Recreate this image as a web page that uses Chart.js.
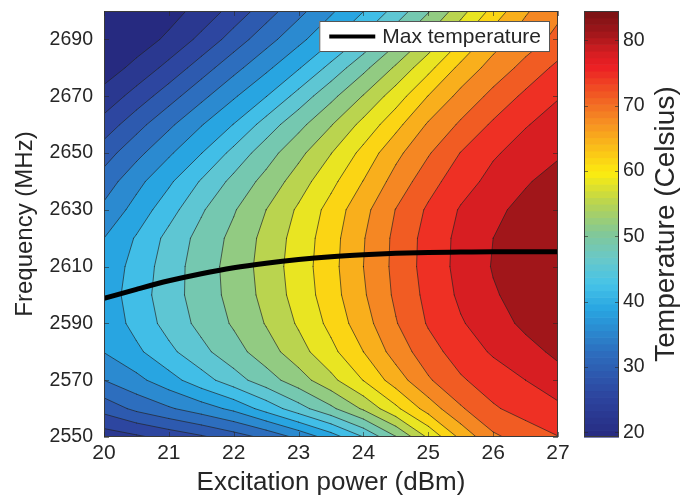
<!DOCTYPE html>
<html>
<head>
<meta charset="utf-8">
<script src="https://cdn.jsdelivr.net/npm/chart.js@4.4.1/dist/chart.umd.min.js"></script>
<style>
  html, body { margin: 0; padding: 0; background: #fff; }
  #wrap { position: relative; width: 684px; height: 499px; }
  #map { position: absolute; left: 0; top: 0; }
  #bar { position: absolute; left: 560px; top: 0; }
</style>
</head>
<body>
<div id="wrap">
  <canvas id="map" width="575" height="499"></canvas>
  <canvas id="bar" width="124" height="499"></canvas>
</div>
<script>
var powers = [20, 20.5, 21, 21.5, 22, 22.5, 23, 23.5, 24, 24.5, 25, 25.5, 26, 26.5, 27];
var freqs = [2550, 2560, 2570, 2580, 2590, 2600, 2610, 2620, 2630, 2640, 2650, 2660, 2670, 2680, 2690, 2700];

// temperature (Celsius), one row per frequency, one column per power
var temperature = [
  [23.9, 25.2, 26.9, 28.6, 30.7, 33.1, 36.4, 40.4, 45.4, 51.7, 58.9, 65.7, 70.9, 72.9, 74.6],
  [30.3, 33.1, 35.2, 37.3, 39.7, 43.4, 47.3, 51.2, 55.7, 61.0, 66.3, 71.1, 74.3, 76.0, 77.3],
  [35.6, 38.0, 40.8, 44.0, 47.2, 50.4, 53.7, 57.5, 61.8, 66.5, 71.1, 74.3, 76.3, 78.0, 79.9],
  [39.0, 41.4, 44.6, 47.7, 50.6, 53.7, 57.1, 60.8, 64.9, 69.6, 73.4, 76.2, 78.4, 80.1, 81.9],
  [39.8, 43.2, 46.6, 49.5, 52.3, 55.4, 58.8, 62.6, 66.8, 71.3, 75.0, 77.7, 79.8, 81.9, 83.0],
  [40.2, 43.8, 47.2, 50.1, 53.0, 56.2, 59.7, 63.5, 67.8, 72.1, 75.6, 78.6, 80.9, 82.4, 83.9],
  [39.7, 43.4, 47.0, 50.2, 53.2, 56.5, 60.0, 63.8, 68.2, 72.4, 76.0, 79.0, 81.4, 82.9, 84.3],
  [38.9, 42.4, 46.4, 49.7, 52.8, 56.2, 59.7, 63.6, 68.0, 72.3, 75.9, 78.9, 81.2, 82.7, 84.2],
  [36.4, 40.1, 44.1, 48.2, 51.6, 55.2, 58.9, 62.9, 67.2, 71.6, 75.2, 78.3, 80.5, 82.1, 83.4],
  [33.8, 37.9, 41.5, 45.7, 49.5, 53.0, 56.8, 60.8, 65.0, 69.5, 73.4, 76.6, 79.0, 80.9, 82.4],
  [30.8, 34.6, 38.4, 42.0, 46.4, 50.4, 54.3, 58.3, 62.7, 67.3, 71.2, 74.8, 77.6, 79.3, 80.8],
  [27.2, 31.1, 34.9, 38.7, 42.2, 46.8, 50.9, 55.0, 59.4, 63.9, 68.6, 72.0, 75.2, 77.8, 79.3],
  [23.5, 27.2, 30.9, 34.7, 38.5, 42.0, 46.6, 51.0, 55.4, 60.1, 65.0, 69.2, 72.4, 75.4, 77.8],
  [21.3, 23.3, 26.9, 30.7, 34.5, 38.2, 41.8, 46.4, 51.0, 55.7, 60.7, 65.8, 69.6, 72.5, 75.5],
  [20.1, 21.3, 23.1, 26.7, 30.5, 34.3, 38.0, 41.6, 46.1, 51.0, 56.0, 61.4, 66.6, 69.9, 72.4],
  [19.5, 20.4, 21.6, 23.5, 27.1, 30.8, 34.6, 38.4, 42.0, 46.6, 51.6, 57.1, 62.8, 67.8, 70.8]
];

// frequency of the hottest point for each power
var ridgeFreq = [2598.8, 2602, 2605, 2607.5, 2609.6, 2611.2, 2612.5, 2613.5, 2614.2, 2614.7, 2615, 2615.1, 2615.2, 2615.2, 2615.2];

var levels = [22.6, 25.8, 29.1, 32.3, 35.6, 38.9, 42.1, 45.4, 48.6, 51.9, 55.2, 58.4, 61.7, 64.9, 68.2, 71.5, 74.7, 78.0, 81.2];
var tempMin = 19.3, tempMax = 84.5;

var powerTicks = [20, 21, 22, 23, 24, 25, 26, 27];
var freqTicks = [2550, 2570, 2590, 2610, 2630, 2650, 2670, 2690];
var tempTicks = [20, 30, 40, 50, 60, 70, 80];

var FONT = "'Liberation Sans', Arial, Helvetica, sans-serif";
var TEXT = '#262626';

// jet-like colour map, a little muted
var cmapStops = [
  [0.00, 38, 42, 128],
  [0.10, 45, 70, 160],
  [0.20, 45, 110, 190],
  [0.30, 40, 165, 225],
  [0.36, 70, 195, 232],
  [0.42, 105, 200, 200],
  [0.48, 130, 200, 150],
  [0.55, 185, 212, 80],
  [0.62, 252, 236, 15],
  [0.68, 250, 190, 25],
  [0.75, 245, 135, 35],
  [0.82, 240, 75, 35],
  [0.87, 236, 30, 36],
  [0.90, 215, 30, 34],
  [0.95, 160, 22, 26],
  [1.00, 120, 18, 20]
];

function cmap(t) {
  t = Math.max(0, Math.min(1, t));
  for (var i = 1; i < cmapStops.length; i++) {
    if (t <= cmapStops[i][0]) {
      var a = cmapStops[i - 1], b = cmapStops[i];
      var u = (t - a[0]) / (b[0] - a[0]);
      return 'rgb(' + Math.round(a[1] + (b[1] - a[1]) * u) + ',' +
        Math.round(a[2] + (b[2] - a[2]) * u) + ',' + Math.round(a[3] + (b[3] - a[3]) * u) + ')';
    }
  }
  return 'rgb(120,18,20)';
}

function fixedTicks(list) {
  return function (scale) {
    scale.ticks = list.map(function (v) { return { value: v }; });
  };
}

function plain(v) { return String(v); }

// no extra room for half labels at the axis ends
function fitY(width) {
  return function (s) { s.width = width; s.paddingTop = 0; s.paddingBottom = 0; };
}

// filled contours: each level paints the part of every grid cell that is >= level
var contourPlugin = {
  id: 'contour',
  beforeDatasetsDraw: function (chart) {
    var ctx = chart.ctx, xs = chart.scales.x, ys = chart.scales.y, area = chart.chartArea;
    var px = powers.map(function (p) { return xs.getPixelForValue(p); });
    var py = freqs.map(function (f) { return ys.getPixelForValue(f); });

    ctx.save();
    ctx.beginPath();
    ctx.rect(area.left, area.top, area.right - area.left, area.bottom - area.top);
    ctx.clip();

    ctx.fillStyle = cmap(0);
    ctx.fillRect(px[0], py[py.length - 1], px[px.length - 1] - px[0], py[0] - py[py.length - 1]);

    var allLines = [];
    levels.forEach(function (lv) {
      ctx.beginPath();
      for (var r = 0; r < freqs.length - 1; r++) {
        for (var c = 0; c < powers.length - 1; c++) {
          var cx = [px[c], px[c + 1], px[c + 1], px[c]];
          var cy = [py[r], py[r], py[r + 1], py[r + 1]];
          var v = [temperature[r][c], temperature[r][c + 1], temperature[r + 1][c + 1], temperature[r + 1][c]];
          var poly = [], cross = [];
          for (var i = 0; i < 4; i++) {
            var j = (i + 1) % 4;
            var inI = v[i] >= lv, inJ = v[j] >= lv;
            if (inI) poly.push([cx[i], cy[i]]);
            if (inI !== inJ) {
              var t = (lv - v[i]) / (v[j] - v[i]);
              var p = [cx[i] + (cx[j] - cx[i]) * t, cy[i] + (cy[j] - cy[i]) * t];
              poly.push(p);
              cross.push({ p: p, exit: inI });
            }
          }
          if (poly.length < 3) continue;
          ctx.moveTo(poly[0][0], poly[0][1]);
          for (var m = 1; m < poly.length; m++) ctx.lineTo(poly[m][0], poly[m][1]);
          ctx.closePath();
          for (var n = 0; n < cross.length; n++) {
            if (cross[n].exit) allLines.push([cross[n].p, cross[(n + 1) % cross.length].p]);
          }
        }
      }
      ctx.fillStyle = cmap((lv - tempMin) / (tempMax - tempMin));
      ctx.fill();
    });

    // contour lines
    ctx.beginPath();
    allLines.forEach(function (s) {
      ctx.moveTo(s[0][0], s[0][1]);
      ctx.lineTo(s[1][0], s[1][1]);
    });
    ctx.strokeStyle = 'rgba(35,35,35,0.75)';
    ctx.lineWidth = 0.9;
    ctx.lineCap = 'round';
    ctx.stroke();
    ctx.restore();
  },
  afterDraw: function (chart) {
    var ctx = chart.ctx, area = chart.chartArea, xs = chart.scales.x, ys = chart.scales.y;
    ctx.save();
    // frame and inward ticks
    ctx.strokeStyle = '#3a3a3a';
    ctx.lineWidth = 1;
    ctx.strokeRect(area.left + 0.5, area.top + 0.5, area.right - area.left - 1, area.bottom - area.top - 1);
    ctx.beginPath();
    powerTicks.forEach(function (v) {
      var x = Math.round(xs.getPixelForValue(v)) + 0.5;
      ctx.moveTo(x, area.bottom); ctx.lineTo(x, area.bottom - 5);
      ctx.moveTo(x, area.top); ctx.lineTo(x, area.top + 5);
    });
    freqTicks.forEach(function (v) {
      var y = Math.round(ys.getPixelForValue(v)) + 0.5;
      ctx.moveTo(area.left, y); ctx.lineTo(area.left + 5, y);
      ctx.moveTo(area.right, y); ctx.lineTo(area.right - 5, y);
    });
    ctx.strokeStyle = 'rgba(40,40,40,0.6)';
    ctx.stroke();

    // legend box
    var ds = chart.data.datasets[0];
    ctx.font = '21px ' + FONT;
    var tw = ctx.measureText(ds.label).width;
    var w = tw + 72, h = 31;
    var bx = area.right - 8 - w, by = area.top + 10;
    ctx.fillStyle = '#fff';
    ctx.fillRect(bx, by, w, h);
    ctx.strokeStyle = '#555';
    ctx.strokeRect(bx + 0.5, by + 0.5, w - 1, h - 1);
    ctx.beginPath();
    ctx.moveTo(bx + 10, by + h / 2);
    ctx.lineTo(bx + 56, by + h / 2);
    ctx.strokeStyle = ds.borderColor;
    ctx.lineWidth = 4;
    ctx.stroke();
    ctx.fillStyle = TEXT;
    ctx.textBaseline = 'middle';
    ctx.fillText(ds.label, bx + 63, by + h / 2 + 1);
    ctx.restore();
  }
};

new Chart(document.getElementById('map'), {
  type: 'scatter',
  data: {
    datasets: [{
      label: 'Max temperature',
      data: powers.map(function (p, i) { return { x: p, y: ridgeFreq[i] }; }),
      showLine: true,
      borderColor: '#000',
      borderWidth: 5,
      pointRadius: 0,
      cubicInterpolationMode: 'monotone'
    }]
  },
  options: {
    responsive: false,
    animation: false,
    layout: { padding: { left: 0, top: 11, right: 17, bottom: 0 } },
    plugins: { legend: { display: false }, tooltip: { enabled: false } },
    scales: {
      x: {
        type: 'linear', min: 20, max: 27,
        afterBuildTicks: fixedTicks(powerTicks),
        afterFit: function (s) { s.height = 62; s.paddingLeft = 0; s.paddingRight = 0; },
        grid: { display: false, drawTicks: false },
        border: { display: false },
        ticks: { color: TEXT, font: { family: FONT, size: 21 }, padding: 4, maxRotation: 0, callback: plain },
        title: { display: true, text: 'Excitation power (dBm)', color: TEXT, font: { family: FONT, size: 26 }, padding: { top: 0, bottom: 1 } }
      },
      y: {
        type: 'linear', min: 2550, max: 2700,
        afterBuildTicks: fixedTicks(freqTicks),
        afterFit: fitY(104),
        grid: { display: false, drawTicks: false },
        border: { display: false },
        ticks: { color: TEXT, font: { family: FONT, size: 19.5 }, padding: 11, callback: plain },
        title: { display: true, text: 'Frequency (MHz)', color: TEXT, font: { family: FONT, size: 24 }, padding: { top: 11, bottom: 0 } }
      }
    }
  },
  plugins: [contourPlugin]
});

// colour bar
var colorbarPlugin = {
  id: 'colorbar',
  beforeDatasetsDraw: function (chart) {
    var ctx = chart.ctx, area = chart.chartArea, ys = chart.scales.y;
    var n = 64;
    ctx.save();
    for (var i = 0; i < n; i++) {
      var v0 = tempMin + (tempMax - tempMin) * i / n;
      var v1 = tempMin + (tempMax - tempMin) * (i + 1) / n;
      var y0 = ys.getPixelForValue(v0), y1 = ys.getPixelForValue(v1);
      ctx.fillStyle = cmap((i + 0.5) / n);
      ctx.fillRect(area.left, y1, area.right - area.left, y0 - y1 + 0.6);
    }
    ctx.restore();
  },
  afterDraw: function (chart) {
    var ctx = chart.ctx, area = chart.chartArea, ys = chart.scales.y;
    ctx.save();
    ctx.strokeStyle = '#3a3a3a';
    ctx.lineWidth = 1;
    ctx.strokeRect(area.left + 0.5, area.top + 0.5, area.right - area.left - 1, area.bottom - area.top - 1);
    ctx.beginPath();
    tempTicks.forEach(function (v) {
      var y = Math.round(ys.getPixelForValue(v)) + 0.5;
      ctx.moveTo(area.left, y); ctx.lineTo(area.left + 4, y);
      ctx.moveTo(area.right, y); ctx.lineTo(area.right - 4, y);
    });
    ctx.strokeStyle = 'rgba(40,40,40,0.6)';
    ctx.stroke();

    ctx.translate(area.right + 47, (area.top + area.bottom) / 2);
    ctx.rotate(-Math.PI / 2);
    ctx.font = '28px ' + FONT;
    ctx.fillStyle = TEXT;
    ctx.textAlign = 'center';
    ctx.textBaseline = 'middle';
    ctx.fillText('Temperature (Celsius)', 0, 0);
    ctx.restore();
  }
};

new Chart(document.getElementById('bar'), {
  type: 'scatter',
  data: { datasets: [] },
  options: {
    responsive: false,
    animation: false,
    layout: { padding: { left: 24, top: 11, right: 0, bottom: 62 } },
    plugins: { legend: { display: false }, tooltip: { enabled: false } },
    scales: {
      x: { display: false, min: 0, max: 1 },
      y: {
        position: 'right', min: tempMin, max: tempMax,
        afterBuildTicks: fixedTicks(tempTicks),
        afterFit: fitY(65),
        grid: { display: false, drawTicks: false },
        border: { display: false },
        ticks: { color: TEXT, font: { family: FONT, size: 19.5 }, padding: 4, callback: plain }
      }
    }
  },
  plugins: [colorbarPlugin]
});
</script>
</body>
</html>
